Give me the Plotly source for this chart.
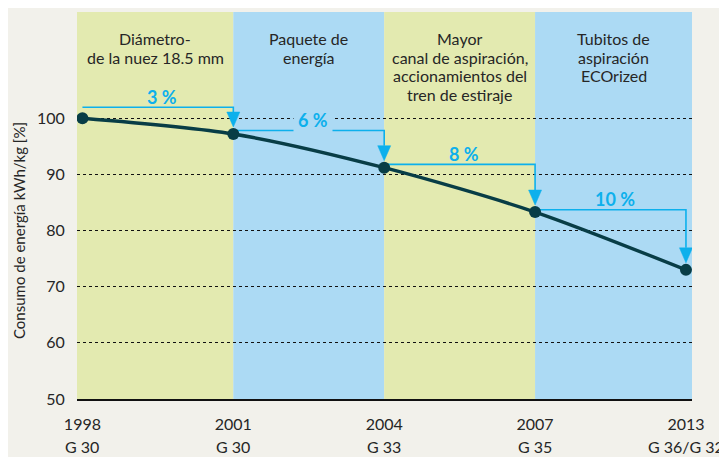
import plotly.graph_objects as go

# ---- data ----
years = ["1998", "2001", "2004", "2007", "2013"]
gauges = ["G 30", "G 30", "G 33", "G 35", "G 36/G 32"]
consumption = [100.0, 97.2, 91.2, 83.3, 73.0]
savings = ["3 %", "6 %", "8 %", "10 %"]
band_labels = [
    ["Diámetro-", "de la nuez 18.5 mm"],
    ["Paquete de", "energía"],
    ["Mayor", "canal de aspiración,", "accionamientos del", "tren de estiraje"],
    ["Tubitos de", "aspiración", "ECOrized"],
]
y_ticks = [50, 60, 70, 80, 90, 100]

# ---- style ----
FONT = "Lato"
TXT = "#262626"
BG = "#f2f1eb"
GREEN = "#e3eab0"
BLUE = "#acdaf4"
CYAN = "#0db0ec"
TEAL = "#083d46"

OFF = 8  # page body margin offset
W, H = 727 - OFF, 457 - OFF
ml, mr, mt, mb = 77 - OFF, 35, 12 - OFF, 58
pw, ph = W - ml - mr, H - mt - mb
x0r, x1r = -0.036, 4.04
y0r, y1r = 50, 118.93
pxx = pw / (x1r - x0r)   # px per x unit
pxy = ph / (y1r - y0r)   # px per y unit

xs = list(range(len(years)))

fig = go.Figure()

# bands
band_edges = [x0r, 1, 2, 3, x1r]
shapes = []
for i in range(4):
    shapes.append(dict(type="rect", xref="x", yref="paper", x0=band_edges[i], x1=band_edges[i + 1],
                       y0=0, y1=1, fillcolor=GREEN if i % 2 == 0 else BLUE,
                       line=dict(width=0), layer="below"))

annotations = []
# band labels
for i, lines in enumerate(band_labels):
    cx = (band_edges[i] + band_edges[i + 1]) / 2
    for j, t in enumerate(lines):
        annotations.append(dict(x=cx, xref="x", y=1, yref="paper", text=t, showarrow=False,
                                yanchor="middle", xanchor="center", yshift=-(26.3 + 18.7 * j),
                                font=dict(family=FONT, size=16, color=TXT)))

# arrows
lift_px = [11, 3.5, 3.3, 2.3]
tip_px = 7
head_h = 15
head_w = 6.5
for i in range(4):
    ya = consumption[i] + lift_px[i] / pxy
    xa, xb = xs[i], xs[i + 1]
    tip = consumption[i + 1] + tip_px / pxy
    top = tip + head_h / pxy
    fig.add_trace(go.Scatter(x=[xa, xb, xb], y=[ya, ya, top], mode="lines",
                             line=dict(color=CYAN, width=1.6), hoverinfo="skip", showlegend=False))
    hw = head_w / pxx
    fig.add_trace(go.Scatter(x=[xb - hw, xb + hw, xb, xb - hw], y=[top, top, tip, top],
                             mode="lines", fill="toself", fillcolor=CYAN,
                             line=dict(color=CYAN, width=0.5), hoverinfo="skip", showlegend=False))
    annotations.append(dict(x=(xa + xb) / 2 + 0.03, xref="x", y=ya, yref="y", text="<b>%s</b>" % savings[i],
                            showarrow=False, yanchor="middle", yshift=10.5,
                            bgcolor=BLUE if i == 1 else None,
                            borderpad=4 if i == 1 else 0,
                            font=dict(family=FONT, size=18, color=CYAN)))

# main line
fig.add_trace(go.Scatter(x=xs, y=consumption, mode="lines+markers",
                         line=dict(color=TEAL, width=3.4, shape="spline", smoothing=0.8),
                         marker=dict(color=TEAL, size=12), showlegend=False))

# second row of x labels
for i, g in enumerate(gauges):
    annotations.append(dict(x=xs[i], xref="x", y=0, yref="paper", text=g, showarrow=False,
                            yanchor="middle", yshift=-47.5,
                            font=dict(family=FONT, size=16, color=TXT)))

# y title (pixel position converted into paper coords)
annotations.append(dict(x=(19 - OFF - ml) / pw, xref="paper", y=(H + OFF - mb - 223 - OFF) / ph, yref="paper",
                        text="Consumo de energía kWh/kg [%]",
                        showarrow=False, textangle=-90, xanchor="center", yanchor="middle",
                        font=dict(family=FONT, size=15, color=TXT)))

fig.update_layout(
    width=W, height=H,
    margin=dict(l=ml, r=mr, t=mt, b=mb, pad=0),
    paper_bgcolor=BG, plot_bgcolor=BG,
    shapes=shapes, annotations=annotations,
    showlegend=False,
    xaxis=dict(range=[x0r, x1r], tickvals=xs, ticktext=years, showgrid=False, zeroline=False,
               showline=True, linecolor="#111111", linewidth=1.5, ticks="outside", ticklen=10,
               tickcolor="rgba(0,0,0,0)", tickfont=dict(family=FONT, size=16, color=TXT),
               fixedrange=True),
    yaxis=dict(range=[y0r, y1r], tickvals=y_ticks, showgrid=True, gridcolor="#111111", gridwidth=1,
               griddash="dot", zeroline=False, ticks="outside", ticklen=8, tickcolor="rgba(0,0,0,0)",
               tickfont=dict(family=FONT, size=16, color=TXT), fixedrange=True),
)

fig.write_html("out.html")
